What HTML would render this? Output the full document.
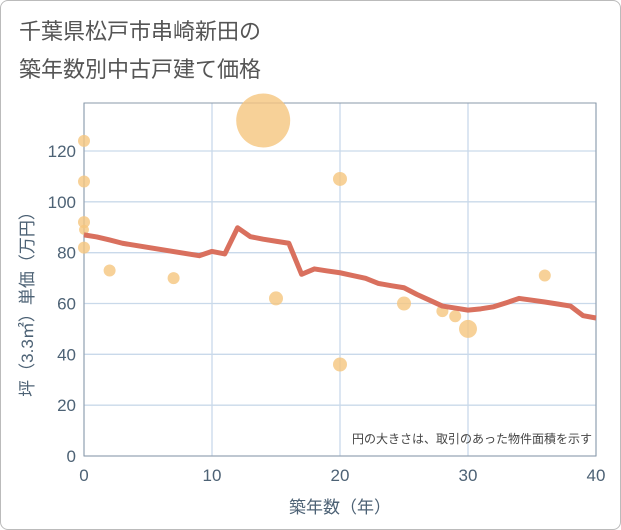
<!DOCTYPE html>
<html><head><meta charset="utf-8"><style>
body{margin:0;background:#fff;}
#wrap{position:relative;width:619px;height:528px;border:1px solid #bbb;border-radius:8px;overflow:hidden;font-family:"Liberation Sans","Noto Sans CJK JP",sans-serif;}
#title{position:absolute;left:18px;top:12px;font-size:22px;line-height:38px;color:#555;}
</style></head><body>
<div id="wrap">
<div id="title">千葉県松戸市串崎新田の<br>築年数別中古戸建て価格</div>
<svg id="chart" width="621" height="530" style="position:absolute;left:-1px;top:-1px"></svg>
</div>
<script>
const xTicks=[0,10,20,30,40];
const yTicks=[0,20,40,60,80,100,120];
const lineYears=[0,1,2,3,9,10,11,12,13,14,15,16,17,18,19,20,21,22,23,24,25,26,27,28,29,30,31,32,33,34,35,36,37,38,39,40];
const lineValues=[87,86.2,85,83.7,78.8,80.5,79.5,89.8,86.3,85.3,84.5,83.7,71.5,73.6,72.8,72.1,71,69.9,67.9,67,66.2,63.6,61.3,59,58.2,57.4,57.9,58.7,60.3,62,61.3,60.6,59.8,59,55.2,54.3];
const bubbleYears=[0,0,0,0,0,2,7,14,15,20,20,25,28,29,30,36];
const bubbleValues=[124,108,92,89,82,73,70,132,62,109,36,60,57,55,50,71];
const bubbleSizes=[6,6,6,5,6,6,6,27,7,7,7,7,6,6,9,6];
const NS="http://www.w3.org/2000/svg";
const svg=document.getElementById('chart');
const X0=84,X1=596,Y0=456,YT=103;
const xs=v=>X0+(v/40)*(X1-X0);
const ys=v=>Y0-v*(305/120);
function mk(t,a){const e=document.createElementNS(NS,t);for(const k in a)e.setAttribute(k,a[k]);svg.appendChild(e);return e;}
for(const t of yTicks){
 const l=mk('line',{x1:X0,x2:X1,y1:ys(t),y2:ys(t),stroke:'#c9d9ea','stroke-width':1.3});
 
 
 const tx=mk('text',{x:X0-8,y:ys(t)+6,'text-anchor':'end','font-size':17,fill:'#4d6275','font-family':'Liberation Sans, sans-serif'});
 tx.textContent=t;
 
 
}
for(const t of xTicks){
 const l=mk('line',{x1:xs(t),x2:xs(t),y1:YT,y2:Y0,stroke:'#c9d9ea','stroke-width':1.3});
 
 
 const tx=mk('text',{x:xs(t),y:Y0+25,'text-anchor':'middle','font-size':17,fill:'#4d6275','font-family':'Liberation Sans, sans-serif'});
 tx.textContent=t;
 
 
}
const fr=mk('rect',{x:X0,y:YT,width:X1-X0,height:Y0-YT,fill:'none',stroke:'#8a98a8','stroke-width':1});


bubbleYears.forEach((yr,i)=>{
 const c=mk('circle',{cx:xs(yr),cy:ys(bubbleValues[i]),r:bubbleSizes[i],fill:'#f5c67e','fill-opacity':0.8});
 
 
});
const p=mk('polyline',{points:lineYears.map((y,i)=>xs(y)+','+ys(lineValues[i])).join(' '),fill:'none',stroke:'#d9705e','stroke-width':5,'stroke-linejoin':'round'});


const note=mk('text',{x:592,y:443,'text-anchor':'end','font-size':12,fill:'#444'});
note.textContent='円の大きさは、取引のあった物件面積を示す';


const xt=mk('text',{x:340,y:513,'text-anchor':'middle','font-size':17,fill:'#4d6275'});
xt.textContent='築年数（年）';


const yt=mk('text',{x:0,y:0,'text-anchor':'middle','font-size':17,fill:'#4d6275',transform:'translate(33,300) rotate(-90)'});
yt.textContent='坪（3.3㎡）単価（万円）';


</script>
</body></html>
